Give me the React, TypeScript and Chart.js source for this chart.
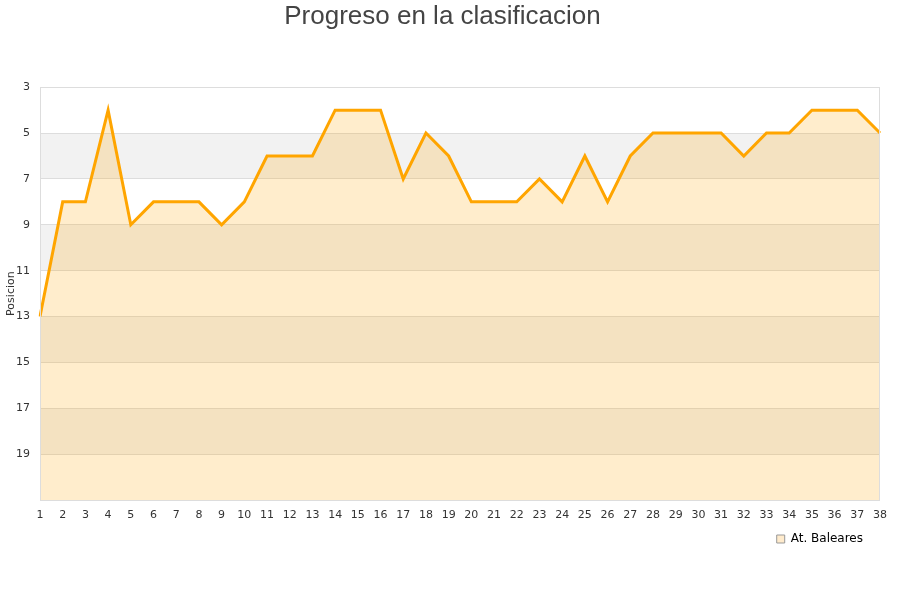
import React, { useEffect, useRef } from "react";
import { Chart, registerables } from "chart.js";

Chart.register(...registerables);

const jornadas: string[] = Array.from({ length: 38 }, (_, i) => String(i + 1));
const posiciones: number[] = [
  13, 8, 8, 4, 9, 8, 8, 8, 9, 8, 6, 6, 6, 4, 4, 4, 7, 5, 6, 8,
  8, 8, 7, 8, 6, 8, 6, 5, 5, 5, 5, 6, 5, 5, 4, 4, 4, 5,
];
const equipo = "At. Baleares";
const titulo = "Progreso en la clasificacion";
const ejeY = "Posicion";
const yMin = 3;
const yMax = 21;

const bandsPlugin = {
  id: "bands",
  afterLayout(chart: any) {
    const lg = chart.legend;
    if (lg) {
      lg.left -= 7;
      lg.right -= 7;
    }
  },
  beforeDraw(chart: any) {
    const { ctx, chartArea, scales } = chart;
    const y = scales.y;
    ctx.save();
    ctx.fillStyle = "#f2f2f2";
    for (let v = yMin + 2; v < yMax; v += 4) {
      const top = y.getPixelForValue(v);
      const bot = y.getPixelForValue(Math.min(v + 2, yMax));
      ctx.fillRect(chartArea.left, top, chartArea.right - chartArea.left, bot - top);
    }
    ctx.restore();
  },
  afterDatasetsDraw(chart: any) {
    const { ctx, chartArea } = chart;
    ctx.save();
    ctx.strokeStyle = "#dddddd";
    ctx.lineWidth = 1;
    ctx.strokeRect(
      Math.round(chartArea.left) + 0.5,
      Math.round(chartArea.top) + 0.5,
      Math.round(chartArea.right - chartArea.left) - 1,
      Math.round(chartArea.bottom - chartArea.top)
    );
    ctx.restore();
  },
};

export default function App() {
  const ref = useRef<HTMLCanvasElement | null>(null);
  useEffect(() => {
    if (!ref.current) return;
    const chart = new Chart(ref.current, {
      type: "line",
      data: {
        labels: jornadas,
        datasets: [
          {
            label: equipo,
            data: posiciones,
            borderColor: "#ffa500",
            backgroundColor: "rgba(255,165,0,0.2)",
            borderWidth: 3,
            pointRadius: 0,
            pointHoverRadius: 0,
            tension: 0,
            fill: { value: yMax },
          },
        ],
      },
      options: {
        responsive: false,
        animation: false,
        layout: { padding: { left: 5, right: 20, top: 1, bottom: 45 } },
        plugins: {
          title: {
            display: true,
            text: titulo,
            color: "#444444",
            font: { family: "'Liberation Sans', Arial, sans-serif", size: 26, weight: "normal" },
            padding: { top: 0, bottom: 55 },
          },
          legend: {
            position: "bottom",
            align: "end",
            labels: {
              boxWidth: 8,
              boxHeight: 8,
              padding: 10,
              color: "#222222",
              font: { family: "'DejaVu Sans', sans-serif", size: 12 },
              generateLabels: () => [
                {
                  text: equipo,
                  fillStyle: "#ffebcc",
                  strokeStyle: "#999999",
                  lineWidth: 1,
                  datasetIndex: 0,
                },
              ],
            },
          },
          tooltip: { enabled: false },
        },
        scales: {
          x: {
            offset: false,
            grid: { display: false, drawTicks: false },
            border: { display: false },
            ticks: {
              color: "#333333",
              font: { family: "'DejaVu Sans', sans-serif", size: 11 },
              maxRotation: 0,
              autoSkip: false,
              padding: 9,
            },
            afterFit: (s: any) => {
              s.height = 23;
            },
          },
          y: {
            reverse: true,
            min: yMin,
            max: yMax,
            title: {
              display: true,
              text: ejeY,
              color: "#333333",
              font: { family: "'DejaVu Sans', sans-serif", size: 11 },
              padding: 0,
            },
            grid: { color: "#dddddd", drawTicks: false },
            border: { display: false },
            ticks: {
              stepSize: 2,
              color: "#333333",
              font: { family: "'DejaVu Sans', sans-serif", size: 11 },
              padding: 10,
              callback: (v: any) => (v === yMax ? "" : String(v)),
            },
            afterFit: (s: any) => {
              s.width = 35;
            },
          },
        },
      },
      plugins: [bandsPlugin],
    });
    return () => chart.destroy();
  }, []);
  return (
    <div style={{ position: "absolute", left: 0, top: 0, width: 900, height: 600 }}>
      <canvas ref={ref} width={900} height={600} style={{ width: 900, height: 600 }} />
    </div>
  );
}
